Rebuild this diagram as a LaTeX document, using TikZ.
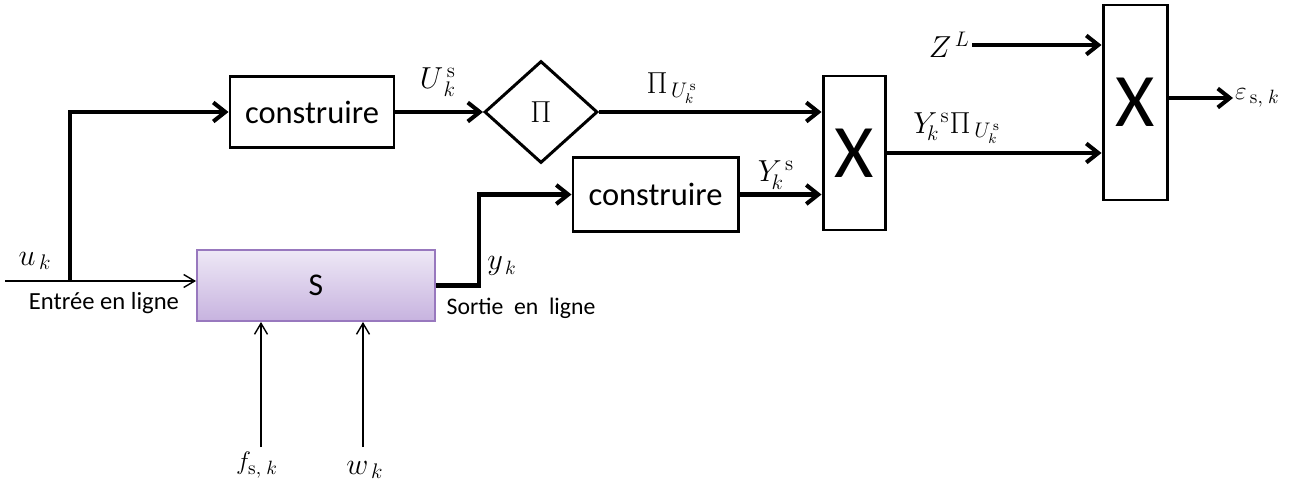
\documentclass[tikz,border=0pt]{standalone}
\usepackage[no-math]{fontspec}
\setmainfont{Carlito}
\usetikzlibrary{arrows.meta,shapes.geometric}
\definecolor{plantlight}{HTML}{EEE8F6}
\definecolor{plantdark}{HTML}{C7B3DF}
\definecolor{plantedge}{HTML}{9878BE}
\tikzset{
  bd box/.style={draw,line width=1.7pt,minimum width=3.28cm,minimum height=1.42cm,inner sep=0pt,font=\fontsize{18.5}{20}\selectfont},
  bd sel/.style={draw,shape=diamond,line width=1.7pt,minimum width=2.26cm,minimum height=2.04cm,inner sep=0pt,font=\fontsize{16}{18}\selectfont},
  bd mult/.style={draw,line width=1.7pt,minimum width=1.24cm,inner sep=0pt,font=\fontsize{43}{45}\selectfont},
  bd plant/.style={draw=plantedge,line width=1.1pt,top color=plantlight,bottom color=plantdark,minimum width=4.76cm,minimum height=1.42cm,inner sep=0pt,font=\fontsize{18}{20}\selectfont},
  bd wire/.style={line width=2.3pt,-{Straight Barb[length=2.4mm,width=3.8mm]}},
  bd feed/.style={line width=.8pt,-{Straight Barb[length=2.2mm,width=2.6mm]}},
  bd math/.style={inner sep=1pt,font=\fontsize{17}{19}\selectfont},
  bd note/.style={inner sep=0pt,font=\fontsize{14}{16}\selectfont}
}

\begin{document}
\begin{tikzpicture}
  \useasboundingbox (0,0) rectangle (25.8,9.66);
  % blocks
  \node[bd box] (build u) at (6.24,7.42) {construire};
  \node[bd sel] (proj) at (10.82,7.42) {$\Pi$};
  \node[bd box,minimum width=3.30cm,minimum height=1.48cm] (build y) at (13.11,5.77) {construire};
  \node[bd mult,minimum height=3.08cm] (mult a) at (17.08,6.60) {X};
  \node[bd mult,minimum width=1.28cm,minimum height=3.90cm] (mult b) at (22.70,7.61) {X};
  \node[bd plant] (plant) at (6.32,3.95) {S};
  % entree / sortie
  \coordinate (uin) at (0.10,4.04);
  \coordinate (usplit) at (1.40,4.04);
  \draw[bd feed] (uin) -- (uin -| plant.west);
  \draw[bd wire] (usplit) |- (build u.west);
  \node[bd math,font=\fontsize{18}{20}\selectfont] (uk) at (0.70,4.44) {$u_{\,k}$};
  \node[bd note] (entree) at (2.08,3.60) {Entrée en ligne};
  \draw[bd wire] (plant.east) -- ++(0.86,0) |- (build y.west);
  \node[bd math,font=\fontsize{16}{18}\selectfont] (yk) at (10.04,4.34) {$y_{\,k}$};
  \node[bd note,font=\fontsize{13.5}{15}\selectfont] (sortie) at (10.42,3.50) {Sortie\ \ en\ \ ligne};
  % chaine du haut
  \draw[bd wire] (build u) -- (proj);
  \node[bd math,font=\fontsize{18}{20}\selectfont] (Uks) at (8.76,8.02) {$U_{\,k}^{\,\mathrm{s}}$};
  \draw[bd wire] (proj) -- (proj -| mult a.west);
  \node[bd math] (piU) at (13.44,7.90) {$\Pi_{\,U_k^{\,\mathrm{s}}}$};
  \draw[bd wire] (build y) -- (build y -| mult a.west);
  \node[bd math,font=\fontsize{18}{20}\selectfont] (Yks) at (15.52,6.16) {$Y_{\!k}^{\,\mathrm{s}}$};
  \draw[bd wire] (mult a) -- (mult a -| mult b.west);
  \node[bd math] (YpiU) at (19.14,7.10) {$Y_{\!k}^{\,\mathrm{s}}\Pi_{\,U_k^{\,\mathrm{s}}}$};
  \node[bd math,anchor=east] (ZL) at (19.44,8.76) {$Z^{\,L}$};
  \draw[bd wire] (ZL) -- (ZL -| mult b.west);
  \node[bd math,anchor=west,font=\fontsize{15}{17}\selectfont] (eps) at (24.66,7.70) {$\varepsilon_{\,\mathrm{s},\;k}$};
  \draw[bd wire] (eps -| mult b.east) -- (eps.west);
  % perturbations
  \coordinate (ftail) at (5.22,0.72);
  \coordinate (wtail) at (7.26,0.72);
  \draw[bd feed] (ftail) -- (ftail |- plant.south);
  \draw[bd feed] (wtail) -- (wtail |- plant.south);
  \node[bd math,font=\fontsize{15}{17}\selectfont] (fsk) at (5.14,0.36) {$f_{\mathrm{s},\;k}$};
  \node[bd math] (wk) at (7.30,0.26) {$w_{\,k}$};
\end{tikzpicture}
\end{document}
